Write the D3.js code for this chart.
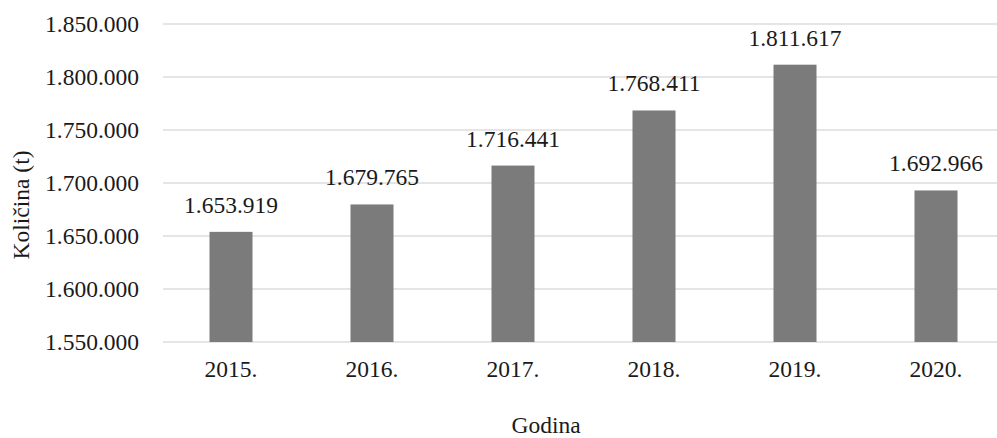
<!DOCTYPE html>
<html><head><meta charset="utf-8">
<script src="https://cdn.jsdelivr.net/npm/d3@7/dist/d3.min.js"></script>
<style>
svg text{font-family:'Liberation Serif', Tinos, 'Times New Roman', serif !important;}
</style>
</head><body style="margin:0;background:#fff">
<svg id="c" width="997" height="438"></svg>
<script>
const categories = ["2015.","2016.","2017.","2018.","2019.","2020."];
const values = [1653919,1679765,1716441,1768411,1811617,1692966];
const yTicks = [1550000,1600000,1650000,1700000,1750000,1800000,1850000];
const yTitle = "Količina (t)";
const xTitle = "Godina";

const FONT = "'Liberation Serif', Tinos, 'Times New Roman', serif";
const FS = "23.5px";
const svg = d3.select("#c");
const fmt = v => d3.format(",")(v).replace(/,/g,".");
const x = d3.scaleBand().domain(categories).range([160.5,1006.5]).paddingInner(0.695).paddingOuter(0.3475);
const y = d3.scaleLinear().domain([1550000,1850000]).range([342,24]);

function txt(sel){
  return sel.attr("font-family",FONT).style("font-size",FS).style("fill","#1a1a1a");
}

svg.append("g").selectAll("line").data(yTicks).join("line")
  .attr("x1",163).attr("x2",997)
  .attr("y1",d=>y(d)).attr("y2",d=>y(d))
  .attr("stroke","#dcdcdc").attr("stroke-width",1.5);

txt(svg.append("g").selectAll("text").data(yTicks).join("text")
  .attr("x",139).attr("y",d=>y(d)).attr("dy","0.35em")
  .attr("text-anchor","end").text(d=>fmt(d)));

svg.append("g").selectAll("rect").data(values).join("rect")
  .attr("x",(d,i)=>x(categories[i])).attr("width",x.bandwidth())
  .attr("y",d=>y(d)).attr("height",d=>y(1550000)-y(d))
  .attr("fill","#7b7b7b");

txt(svg.append("g").selectAll("text").data(values).join("text")
  .attr("x",(d,i)=>x(categories[i])+x.bandwidth()/2)
  .attr("y",d=>y(d)-19).attr("text-anchor","middle").text(d=>fmt(d)));

txt(svg.append("g").selectAll("text").data(categories).join("text")
  .attr("x",d=>x(d)+x.bandwidth()/2).attr("y",377)
  .attr("text-anchor","middle").text(d=>d));

txt(svg.append("text").attr("x",546).attr("y",433).attr("text-anchor","middle").text(xTitle));
txt(svg.append("text").attr("transform","translate(29,205) rotate(-90)")
  .attr("text-anchor","middle").text(yTitle));
</script></body></html>
